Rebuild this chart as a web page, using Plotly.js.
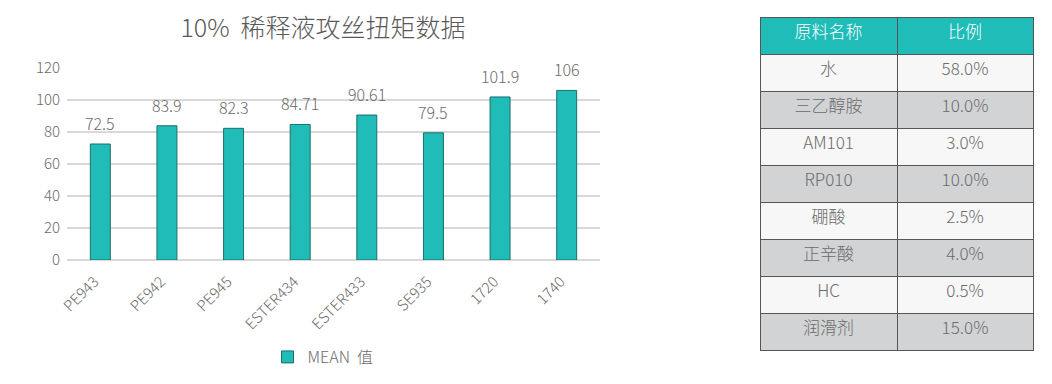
<!DOCTYPE html>
<html>
<head>
<meta charset="utf-8">
<script src="https://cdn.plot.ly/plotly-3.0.1.min.js"></script>
<style>html,body{margin:0;padding:0;background:#fff;}#chart{width:1052px;height:384px;}</style>
</head>
<body>
<div id="chart"></div>
<script>
const categories = ["PE943", "PE942", "PE945", "ESTER434", "ESTER433", "SE935", "1720", "1740"];
const meanValues = [72.5, 83.9, 82.3, 84.71, 90.61, 79.5, 101.9, 106];
const valueLabels = ["72.5", "83.9", "82.3", "84.71", "90.61", "79.5", "101.9", "106"];
const materials = ["水", "三乙醇胺", "AM101", "RP010", "硼酸", "正辛酸", "HC", "润滑剂"];
const ratios = ["58.0%", "10.0%", "3.0%", "10.0%", "2.5%", "4.0%", "0.5%", "15.0%"];
const tableHeader = ["原料名称", "比例"];

const W = 1052, H = 384;
const FONT = "'Noto Sans CJK SC', 'Noto Sans', sans-serif";
const GRAY = "#6b6b6b";
const TEAL = "#1fbcb8";

const rowFills = materials.map((_, i) => i % 2 === 0 ? "#f7f7f7" : "#d2d3d5");

const bar = {
  type: "bar",
  x: categories,
  y: meanValues,
  name: "MEAN  值",
  cliponaxis: false,
  width: 0.3,
  marker: {color: TEAL, line: {color: "#1d6f6c", width: 1}},
  hoverinfo: "x+y"
};

const table = {
  type: "table",
  domain: {x: [760 / W, 1033 / W], y: [1 - 351 / H, 1 - 17 / H]},
  columnwidth: [137, 136],
  header: {
    values: tableHeader,
    fill: {color: TEAL},
    line: {color: "#555555", width: 1},
    align: "center",
    height: 37,
    font: {family: FONT, size: 17, color: "#ffffff", weight: 300}
  },
  cells: {
    values: [materials, ratios],
    fill: {color: [rowFills, rowFills]},
    line: {color: "#555555", width: 1},
    align: "center",
    height: 37,
    font: {family: FONT, size: 17, color: GRAY, weight: 300}
  }
};

// On a category axis, annotation positions are category indices
const valueAnnotations = categories.map((c, i) => ({
  x: i, y: meanValues[i], xref: "x", yref: "y",
  text: valueLabels[i], showarrow: false,
  yanchor: "bottom", yshift: 7,
  font: {family: FONT, size: 16, color: GRAY, weight: 300}
}));

const layout = {
  width: W, height: H,
  margin: {l: 0, r: 0, t: 0, b: 0},
  paper_bgcolor: "#ffffff",
  plot_bgcolor: "#ffffff",
  showlegend: true,
  font: {family: FONT, color: GRAY},
  title: {
    text: "10%  稀释液攻丝扭矩数据",
    x: 323 / W, xanchor: "center",
    y: 1 - 28 / H, yanchor: "middle",
    font: {family: FONT, size: 25, color: "#595959", weight: 300}
  },
  annotations: valueAnnotations,
  xaxis: {
    type: "category",
    categoryorder: "array",
    categoryarray: categories,
    domain: [67 / W, 600 / W],
    tickangle: -45,
    tickfont: {family: FONT, size: 15, color: GRAY, weight: 300},
    showgrid: false,
    showline: false,
    ticks: "",
    ticklabelshift: -6,
    ticklabelstandoff: 9,
    fixedrange: true
  },
  yaxis: {
    domain: [1 - 260 / H, 1 - 68 / H],
    range: [0, 120],
    dtick: 20,
    tickfont: {family: FONT, size: 15, color: GRAY, weight: 300},
    gridcolor: "#d9d9d9",
    gridwidth: 2,
    zerolinecolor: "#d9d9d9",
    zerolinewidth: 2,
    ticks: "",
    ticklabelstandoff: 6,
    fixedrange: true
  },
  legend: {
    orientation: "h",
    x: 323 / W, xanchor: "center",
    y: 1 - 357 / H, yanchor: "middle",
    font: {family: FONT, size: 16, color: GRAY, weight: 300}
  }
};

Plotly.newPlot("chart", [bar, table], layout, {displayModeBar: false, staticPlot: true});
</script>
</body>
</html>
